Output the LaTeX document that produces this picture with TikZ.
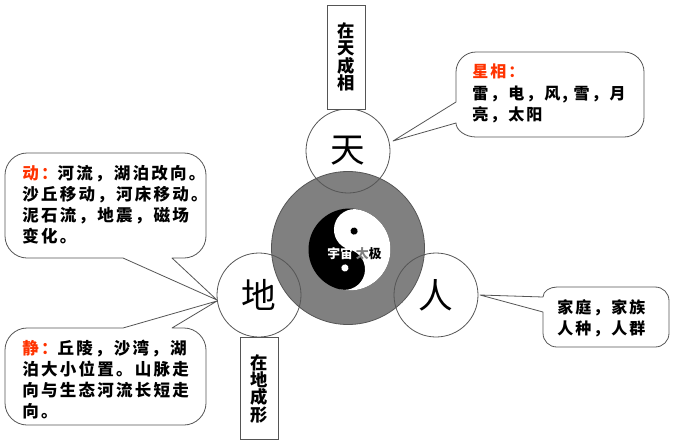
\documentclass[tikz,border=0pt]{standalone}
\usepackage{fontspec}
\newfontfamily\cjk{Noto Sans CJK SC}
\newfontfamily\cjkls[LetterSpace=13.5]{Noto Sans CJK SC}
\newfontfamily\cjklt[LetterSpace=12.5]{Noto Sans CJK SC}
\definecolor{edge}{HTML}{555555}
\definecolor{ringgray}{HTML}{808080}
\definecolor{hot}{HTML}{FF3300}
\tikzset{
  bubble/.style={draw=edge,fill=white,line width=0.6pt,line join=round},
  blurb/.style={inner sep=0pt,align=left,anchor=north west,font=\cjkls\bfseries\fontsize{12.4}{15.75}\selectfont,text=black},
  blurbb/.style={blurb,font=\cjklt\bfseries\fontsize{12}{16}\selectfont},
  sphere/.style={circle,draw=edge,line width=0.6pt,minimum size=63pt,inner sep=0pt,font=\cjk\fontsize{26}{26}\selectfont},
  tablet/.style={draw=edge,line width=0.7pt,fill=white,inner sep=0pt},
  vlabel/.style={align=center,inner sep=0pt,font=\cjk\bfseries\fontsize{13}{13}\selectfont}
}
\begin{document}
\begin{tikzpicture}[x=0.75pt,y=-0.75pt]
\useasboundingbox (0,0) rectangle (673,443);
\fill[white] (0,0) rectangle (673,443);

% big grey disc and taiji
\node[circle,draw=edge,fill=ringgray,line width=0.6pt,minimum size=114.75pt,inner sep=0pt] (ring) at (348,248) {};
\begin{scope}[shift={(349.5,249.5)},rotate=-14,x=0.75pt,y=0.75pt]
  \fill[black] (0,0) circle (41);
  \fill[white] (0,41) arc (90:-90:41) arc (-90:90:20.5) arc (-90:-270:20.5) -- cycle;
  \fill[black] (0,19) circle (3.6);
  \fill[white] (0,-19) circle (3.6);
\end{scope}
\node[inner sep=0pt,text=white,font=\cjk\bfseries\fontsize{9.6}{9.6}\selectfont] (taiji) at (354.5,254) {宇宙 {\color{ringgray}太}{\color{black}极}};

% outer circles (outline only over the disc)
\node[sphere] (tian) at (348,151) {天};
\node[sphere] (di) at (259,295) {地};
\node[sphere] (ren) at (436,295) {人};

% tablets
\node[tablet,minimum width=29pt,minimum height=78pt] (tabtian) at (346.5,57) {};
\node[vlabel] (tiantext) at (tabtian.center) {在\\天\\成\\相};
\node[tablet,minimum width=28.5pt,minimum height=77pt] (tabdi) at (259,388.5) {};
\node[vlabel] (ditext) at (tabdi.center) {在\\地\\成\\形};

% callouts
\draw[bubble] (123,258) -- (27,258) .. controls (15,258) and (5,248) .. (5,236) -- (5,175) .. controls (5,163) and (15,153) .. (27,153) -- (184,153) .. controls (196,153) and (206,163) .. (206,175) -- (206,236) .. controls (206,248) and (196,258) .. (184,258) -- (172,258) -- (217,300) -- cycle;
\draw[bubble] (172,328) -- (184,328) .. controls (196,328) and (206,338) .. (206,350) -- (206,403) .. controls (206,415) and (196,425) .. (184,425) -- (27,425) .. controls (15,425) and (5,415) .. (5,403) -- (5,350) .. controls (5,338) and (15,328) .. (27,328) -- (123,328) -- (217,301) -- cycle;
\draw[bubble] (456,102) -- (456,72) .. controls (456,61) and (465,52) .. (476,52) -- (624,52) .. controls (635,52) and (644,61) .. (644,72) -- (644,117) .. controls (644,128) and (635,137) .. (624,137) -- (476,137) .. controls (465,137) and (456,130) .. (456,123) -- (393,141) -- cycle;
\draw[bubble] (543,297) .. controls (543,291) and (550,287) .. (557,287) -- (655,287) .. controls (663,287) and (669,293) .. (669,301) -- (669,333) .. controls (669,341) and (663,347) .. (655,347) -- (557,347) .. controls (549,347) and (543,341) .. (543,333) -- (543,312) -- (480,295) -- cycle;

% callout text
\node[blurb] (t1) at (22,165) {{\color{hot}动：}河流，湖泊改向。\\沙丘移动，河床移动。\\泥石流，地震，磁场\\变化。};
\node[blurb] (t2) at (22,340) {{\color{hot}静：}丘陵，沙湾，湖\\泊大小位置。山脉走\\向与生态河流长短走\\向。};
\node[blurbb] (t3) at (472,64) {{\color{hot}星相：}\\雷，电，风, 雪，月\\亮，太阳};
\node[blurbb] (t4) at (557,299) {家庭，家族\\人种，人群};
\end{tikzpicture}
\end{document}
